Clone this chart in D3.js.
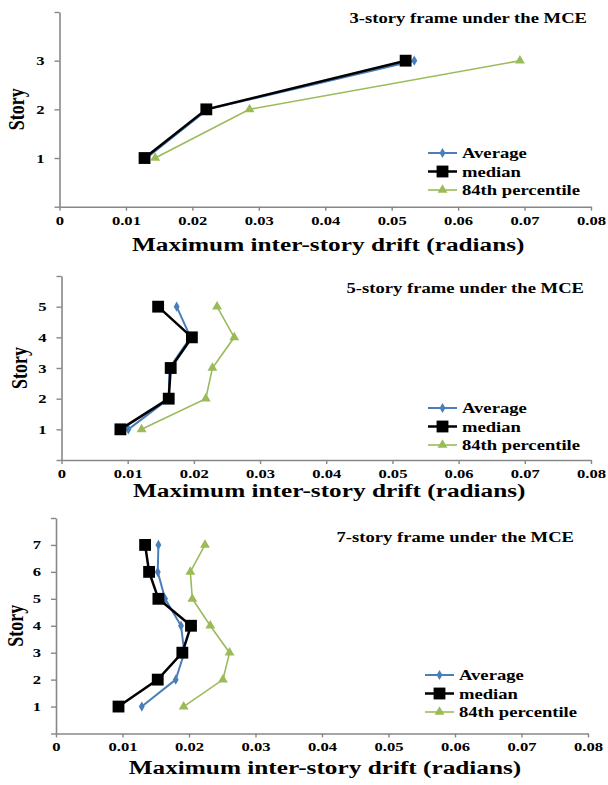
<!DOCTYPE html>
<html lang="en">
<head>
<meta charset="UTF-8">
<title>Maximum inter-story drift under the MCE</title>
<script src="https://cdn.jsdelivr.net/npm/d3@7"></script>
<style>
  body { margin: 0; background: #fff; }
  svg text { font-family: "Liberation Serif", "Times New Roman", serif; font-weight: bold; fill: #000; }
</style>
</head>
<body>
<script>

var w = 608;
var h = 785;
var SX = 1.33; // the original picture is stretched sideways

var xTicks = [0, 0.01, 0.02, 0.03, 0.04, 0.05, 0.06, 0.07, 0.08];
var seriesNames = ["Average", "median", "84th percentile"];
var seriesColors = ["#4A7EBB", "#000000", "#9BBB59"];

// 3-story frame
var stories3 = [1, 2, 3];
var average3 = [0.0131, 0.0223, 0.0534];
var median3 = [0.0128, 0.0221, 0.0521];
var p84_3 = [0.0144, 0.0286, 0.0693];

// 5-story frame
var stories5 = [1, 2, 3, 4, 5];
var average5 = [0.0101, 0.0162, 0.0163, 0.0195, 0.0174];
var median5 = [0.0089, 0.0162, 0.0165, 0.0197, 0.0146];
var p84_5 = [0.0121, 0.0218, 0.0228, 0.0261, 0.0235];

// 7-story frame
var stories7 = [1, 2, 3, 4, 5, 6, 7];
var average7 = [0.0129, 0.0180, 0.0193, 0.0188, 0.0164, 0.0153, 0.0154];
var median7 = [0.0094, 0.0153, 0.0190, 0.0203, 0.0154, 0.0140, 0.0134];
var p84_7 = [0.0192, 0.0251, 0.0261, 0.0232, 0.0205, 0.0202, 0.0224];

var panels = [
    { title: "3-story frame under the MCE", stories: stories3, series: [average3, median3, p84_3], yMax: 4,
      left: 59.5, right: 591, top: 12, bottom: 206.7, titleX: 587, titleY: 18, storyX: 18,
      xTitleY: 245, legendX: 428, legendY: 153 },
    { title: "5-story frame under the MCE", stories: stories5, series: [average5, median5, p84_5], yMax: 6,
      left: 61.5, right: 591, top: 276, bottom: 460, titleX: 584, titleY: 288, storyX: 21,
      xTitleY: 491, legendX: 428, legendY: 408 },
    { title: "7-story frame under the MCE", stories: stories7, series: [average7, median7, p84_7], yMax: 8,
      left: 56, right: 588, top: 518, bottom: 733.5, titleX: 574, titleY: 537, storyX: 17,
      xTitleY: 768, legendX: 425, legendY: 675 }
];

var symbols = [
    d3.symbol().type(d3.symbolDiamond).size(30),
    d3.symbol().type(d3.symbolSquare).size(140),
    d3.symbol().type(d3.symbolTriangle).size(42)
];
var lineWidths = [2, 2.5, 1.6];

var svg = d3.select("body")
            .append("svg")
            .attr("width", w)
            .attr("height", h);

// move x/y into a transform so the text can be widened like the original
function stretch(sel, sx, sy) {
    sel.each(function() {
        var t = d3.select(this);
        var x = +t.attr("x") || 0, y = +t.attr("y") || 0;
        t.attr("x", 0).attr("y", 0)
         .attr("transform", "translate(" + x + "," + y + ") scale(" + sx + "," + sy + ")");
    });
}

panels.forEach(function(p) {
    var g = svg.append("g");

    var x = d3.scaleLinear().domain([0, 0.08]).range([p.left, p.right]);
    var y = d3.scaleLinear().domain([0, p.yMax]).range([p.bottom, p.top]);

    var xAxis = g.append("g")
        .attr("transform", "translate(0," + p.bottom + ")")
        .call(d3.axisBottom(x).tickValues(xTicks).tickSize(4).tickSizeOuter(0).tickPadding(5)
              .tickFormat(function(d) { return d === 0 ? "0" : d3.format(".2f")(d); }));

    var yAxis = g.append("g")
        .attr("transform", "translate(" + p.left + ",0)")
        .call(d3.axisLeft(y).tickValues(d3.range(0, p.yMax + 1)).tickSize(5).tickSizeOuter(0).tickPadding(10)
              .tickFormat(function(d) { return (d === 0 || d === p.yMax) ? "" : d; }));

    [xAxis, yAxis].forEach(function(a) {
        a.select(".domain").attr("stroke", "#878787").attr("stroke-width", 1.6);
        a.selectAll(".tick line").attr("stroke", "#878787").attr("stroke-width", 1.4);
        a.selectAll(".tick text")
            .attr("font-family", null).attr("font-size", "12.5px").attr("fill", "#000");
        stretch(a.selectAll(".tick text"), SX, 1);
    });

    // series lines and markers
    var line = d3.line()
        .x(function(d) { return x(d[0]); })
        .y(function(d) { return y(d[1]); });

    p.series.forEach(function(vals, i) {
        var pts = vals.map(function(v, j) { return [v, p.stories[j]]; });
        g.append("path")
            .datum(pts)
            .attr("d", line)
            .attr("fill", "none")
            .attr("stroke", seriesColors[i])
            .attr("stroke-width", lineWidths[i]);
        g.selectAll(".m" + i)
            .data(pts)
            .enter()
            .append("path")
            .attr("class", "m" + i)
            .attr("d", symbols[i])
            .attr("transform", function(d) { return "translate(" + x(d[0]) + "," + y(d[1]) + ")"; })
            .attr("fill", seriesColors[i]);
    });

    // title
    stretch(g.append("text")
        .attr("x", p.titleX)
        .attr("y", p.titleY + 5)
        .attr("text-anchor", "end")
        .attr("font-size", "14px")
        .text(p.title), SX, 1);

    // axis titles
    stretch(g.append("text")
        .attr("x", (p.left + p.right) / 2 + 3)
        .attr("y", p.xTitleY + 6)
        .attr("text-anchor", "middle")
        .attr("font-size", "19px")
        .text("Maximum inter-story drift (radians)"), SX, 1);

    g.append("text")
        .attr("transform", "translate(" + (p.storyX + 6) + "," + ((p.top + p.bottom) / 2) + ") rotate(-90) scale(1," + SX + ")")
        .attr("text-anchor", "middle")
        .attr("font-size", "18px")
        .text("Story");

    // legend
    var leg = g.selectAll(".leg")
        .data(seriesNames)
        .enter()
        .append("g")
        .attr("class", "leg")
        .attr("transform", function(d, i) { return "translate(" + p.legendX + "," + (p.legendY + i * 18.5) + ")"; });

    leg.append("line")
        .attr("x1", 0).attr("x2", 29)
        .attr("stroke", function(d, i) { return seriesColors[i]; })
        .attr("stroke-width", function(d, i) { return lineWidths[i]; });

    leg.append("path")
        .attr("d", function(d, i) { return symbols[i](); })
        .attr("transform", "translate(14.5,0)")
        .attr("fill", function(d, i) { return seriesColors[i]; });

    stretch(leg.append("text")
        .attr("x", 34)
        .attr("y", 5)
        .attr("font-size", "14px")
        .text(function(d) { return d; }), SX, 1);
});

</script>
</body>
</html>
